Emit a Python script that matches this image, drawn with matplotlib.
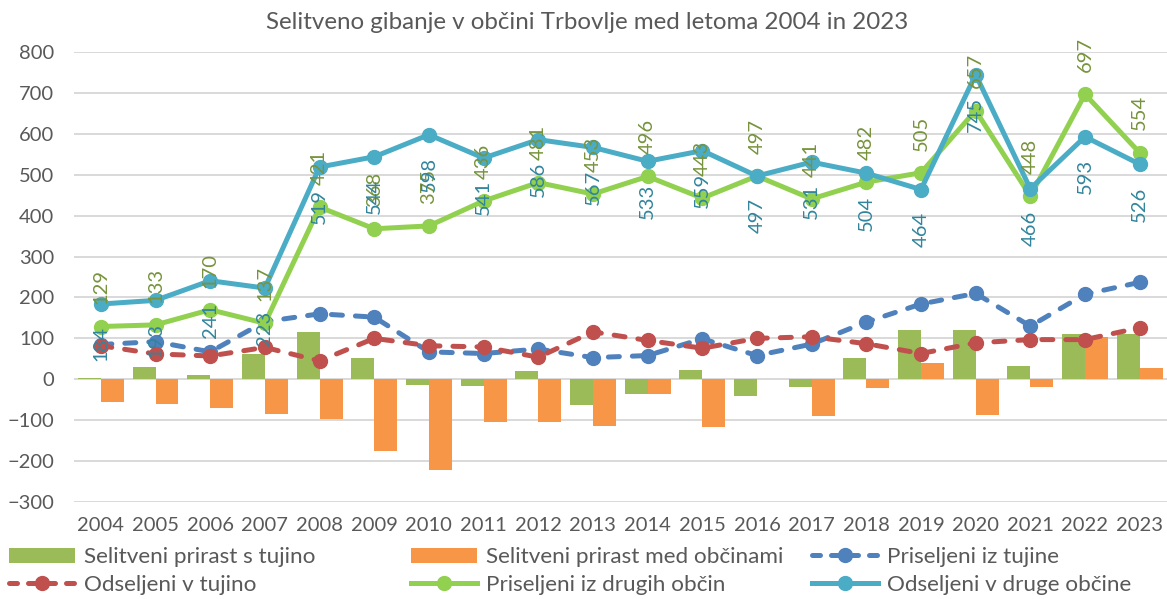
import matplotlib
matplotlib.use("Agg")
import matplotlib.pyplot as plt
import numpy as np
from matplotlib.patches import Patch
from matplotlib.lines import Line2D

years = ["2004", "2005", "2006", "2007", "2008", "2009", "2010", "2011", "2012", "2013",
         "2014", "2015", "2016", "2017", "2018", "2019", "2020", "2021", "2022", "2023"]

prirast_tujina = [3, 30, 10, 63, 115, 52, -15, -16, 20, -63,
                  -37, 23, -42, -18, 53, 121, 121, 33, 111, 111]
prirast_obcine = [-55, -60, -71, -86, -98, -176, -223, -105, -105, -114,
                  -37, -116, 0, -90, -22, 41, -88, -18, 104, 28]
priseljeni_tujina = [85, 92, 67, 141, 160, 152, 67, 63, 74, 53,
                     58, 99, 58, 86, 140, 184, 210, 130, 208, 237]
odseljeni_tujina = [82, 62, 57, 78, 45, 100, 82, 79, 54, 116,
                    95, 76, 100, 104, 87, 63, 89, 97, 97, 126]
priseljeni_obcine = [129, 133, 170, 137, 421, 368, 375, 436, 481, 453,
                     496, 443, 497, 441, 482, 505, 657, 448, 697, 554]
odseljeni_obcine = [184, 193, 241, 223, 519, 544, 598, 541, 586, 567,
                    533, 559, 497, 531, 504, 464, 745, 466, 593, 526]

title = "Selitveno gibanje v občini Trbovlje med letoma 2004 in 2023"
names = ["Selitveni prirast s tujino", "Selitveni prirast med občinami", "Priseljeni iz tujine",
         "Odseljeni v tujino", "Priseljeni iz drugih občin", "Odseljeni v druge občine"]

C_BAR1 = "#9BBB59"
C_BAR2 = "#F79646"
C_BLUE = "#4F81BD"
C_RED = "#C0504D"
C_GREEN = "#92D050"
C_TEAL = "#4BACC6"
C_GREEN_LBL = "#77933C"
C_TEAL_LBL = "#31859C"
TXT = "#595959"
FS = 14.5
FS_LEG = 16.2
FS_TITLE = 17.4

plt.rcParams['font.family'] = ['Lato', 'DejaVu Sans']

fig = plt.figure(figsize=(11.67, 5.99), dpi=100)
ax = fig.add_axes([0.063, 0.162, 0.937, 0.751])

x = np.arange(len(years))
w = 0.42
ax.bar(x - w / 2, prirast_tujina, w, color=C_BAR1, zorder=2)
ax.bar(x + w / 2, prirast_obcine, w, color=C_BAR2, zorder=2)

lw = 3.6
ms = 10
dash = (0, (2.2, 2.6))
ax.plot(x, priseljeni_tujina, color=C_BLUE, lw=lw, ls=dash, dash_capstyle='round',
        marker='o', ms=ms, zorder=3)
ax.plot(x, odseljeni_tujina, color=C_RED, lw=lw, ls=dash, dash_capstyle='round',
        marker='o', ms=ms, zorder=4)
ax.plot(x, priseljeni_obcine, color=C_GREEN, lw=lw, marker='o', ms=ms, zorder=5)
ax.plot(x, odseljeni_obcine, color=C_TEAL, lw=lw, marker='o', ms=ms, zorder=6)

for xi, v in zip(x, priseljeni_obcine):
    ax.annotate(str(v), (xi, v), xytext=(0, 16), textcoords='offset points', rotation=90,
                ha='center', va='bottom', color=C_GREEN_LBL, fontsize=FS, zorder=8)
for xi, v in zip(x, odseljeni_obcine):
    ax.annotate(str(v), (xi, v), xytext=(0, -16), textcoords='offset points', rotation=90,
                ha='center', va='top', color=C_TEAL_LBL, fontsize=FS, zorder=8)

ax.set_xlim(-0.5, len(years) - 0.5)
ax.set_ylim(-300, 800)
ax.set_yticks(np.arange(-300, 801, 100))
ax.set_xticks(x)
ax.set_xticklabels(years)
ax.tick_params(axis='both', length=0, labelsize=FS, labelcolor=TXT)
ax.tick_params(axis='y', pad=14)
ax.tick_params(axis='x', pad=11)
for s in ax.spines.values():
    s.set_visible(False)
ax.yaxis.grid(True, color='#D9D9D9', lw=1.4, zorder=0)
ax.set_axisbelow(True)

fig.text(0.503, 0.962, title, ha='center', va='center', fontsize=FS_TITLE, color=TXT)

# legend: three columns
h_bar1 = Patch(facecolor=C_BAR1)
h_bar2 = Patch(facecolor=C_BAR2)
h_blue = Line2D([], [], color=C_BLUE, lw=lw, ls=(0, (1.6, 2.2)), dash_capstyle='round',
                marker='o', ms=ms)
h_red = Line2D([], [], color=C_RED, lw=lw, ls=(0, (1.6, 2.2)), dash_capstyle='round',
               marker='o', ms=ms)
h_green = Line2D([], [], color=C_GREEN, lw=lw, marker='o', ms=ms)
h_teal = Line2D([], [], color=C_TEAL, lw=lw, marker='o', ms=ms)

cols = [([h_bar1, h_red], [names[0], names[3]], 9),
        ([h_bar2, h_green], [names[1], names[4]], 411),
        ([h_blue, h_teal], [names[2], names[5]], 812)]
for hs, ls_, px in cols:
    leg = fig.legend(hs, ls_, loc='upper left', bbox_to_anchor=(px / 1167, 1 - 547 / 599),
                     frameon=False, fontsize=FS_LEG, borderpad=0, borderaxespad=0,
                     handlelength=2.95, handletextpad=0.4, labelspacing=0.36,
                     handleheight=0.65)
    for t in leg.get_texts():
        t.set_color(TXT)

fig.savefig("out.png", dpi=100)
